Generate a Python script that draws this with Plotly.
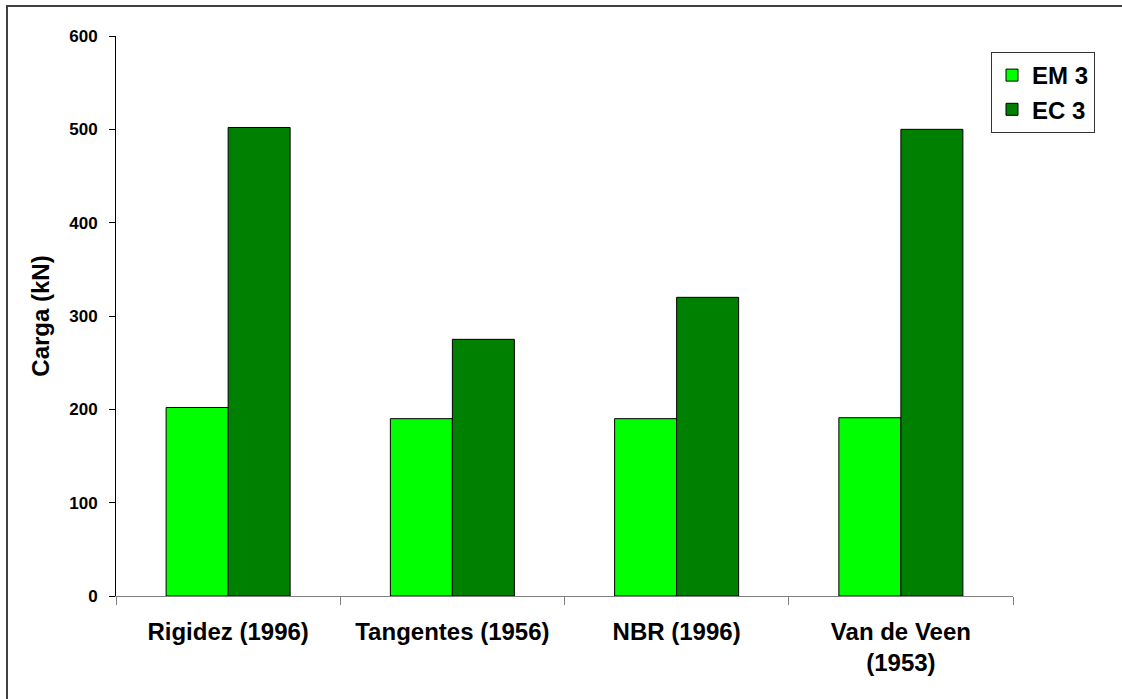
import plotly.graph_objects as go

# Ultimate load estimates by method (kN)
categories = ["Rigidez (1996)", "Tangentes (1956)", "NBR (1996)", "Van de Veen<br>(1953)"]
em3_values = [202, 190, 190, 191]
ec3_values = [502, 275, 320, 500]
y_ticks = [0, 100, 200, 300, 400, 500, 600]

FONT = "Liberation Sans, Arial, sans-serif"

fig = go.Figure()
fig.add_trace(go.Bar(
    name="EM 3", x=categories, y=em3_values,
    marker=dict(color="#00FF00", line=dict(color="#000000", width=1)),
))
fig.add_trace(go.Bar(
    name="EC 3", x=categories, y=ec3_values,
    marker=dict(color="#008000", line=dict(color="#000000", width=1)),
))

W, H = 1122, 699
L, R, T, B = 116, 109, 36, 103
pw, ph = W - L - R, H - T - B


def px_x(p):
    return (p - L) / pw


def px_y(p):
    return (H - B - p) / ph


fig.update_layout(
    width=W, height=H,
    margin=dict(l=L, r=R, t=T, b=B),
    paper_bgcolor="white", plot_bgcolor="white",
    barmode="group", bargap=0.447, bargroupgap=0,
    font=dict(family=FONT, color="black"),
    legend=dict(
        x=px_x(1095), xanchor="right", y=px_y(52), yanchor="top",
        bordercolor="#333333", borderwidth=1, bgcolor="white",
        font=dict(family=FONT, size=24, weight="bold", color="black"),
        itemwidth=30, tracegroupgap=0,
    ),
    xaxis=dict(
        showline=True, linecolor="#808080", linewidth=1,
        ticks="outside", tickson="boundaries", ticklen=8, tickcolor="#808080",
        tickfont=dict(family=FONT, size=24, weight="bold", color="black"),
        ticklabelstandoff=14,
        showgrid=False, zeroline=False,
    ),
    yaxis=dict(
        range=[0, 600], tickvals=y_ticks,
        showline=True, linecolor="black", linewidth=1,
        ticks="outside", ticklen=6, tickcolor="black",
        tickfont=dict(family=FONT, size=17, weight="bold", color="black"),
        ticklabelstandoff=8,
        showgrid=False, zeroline=False,
        title=dict(text="Carga (kN)", standoff=12,
                   font=dict(family=FONT, size=24, weight="bold", color="black")),
    ),
    shapes=[dict(
        type="rect", xref="paper", yref="paper",
        x0=px_x(7), x1=px_x(W + 20), y0=px_y(H + 20), y1=px_y(6),
        line=dict(color="#404040", width=2), fillcolor="rgba(0,0,0,0)",
        layer="below",
    )],
)

fig.write_html("out.html")
